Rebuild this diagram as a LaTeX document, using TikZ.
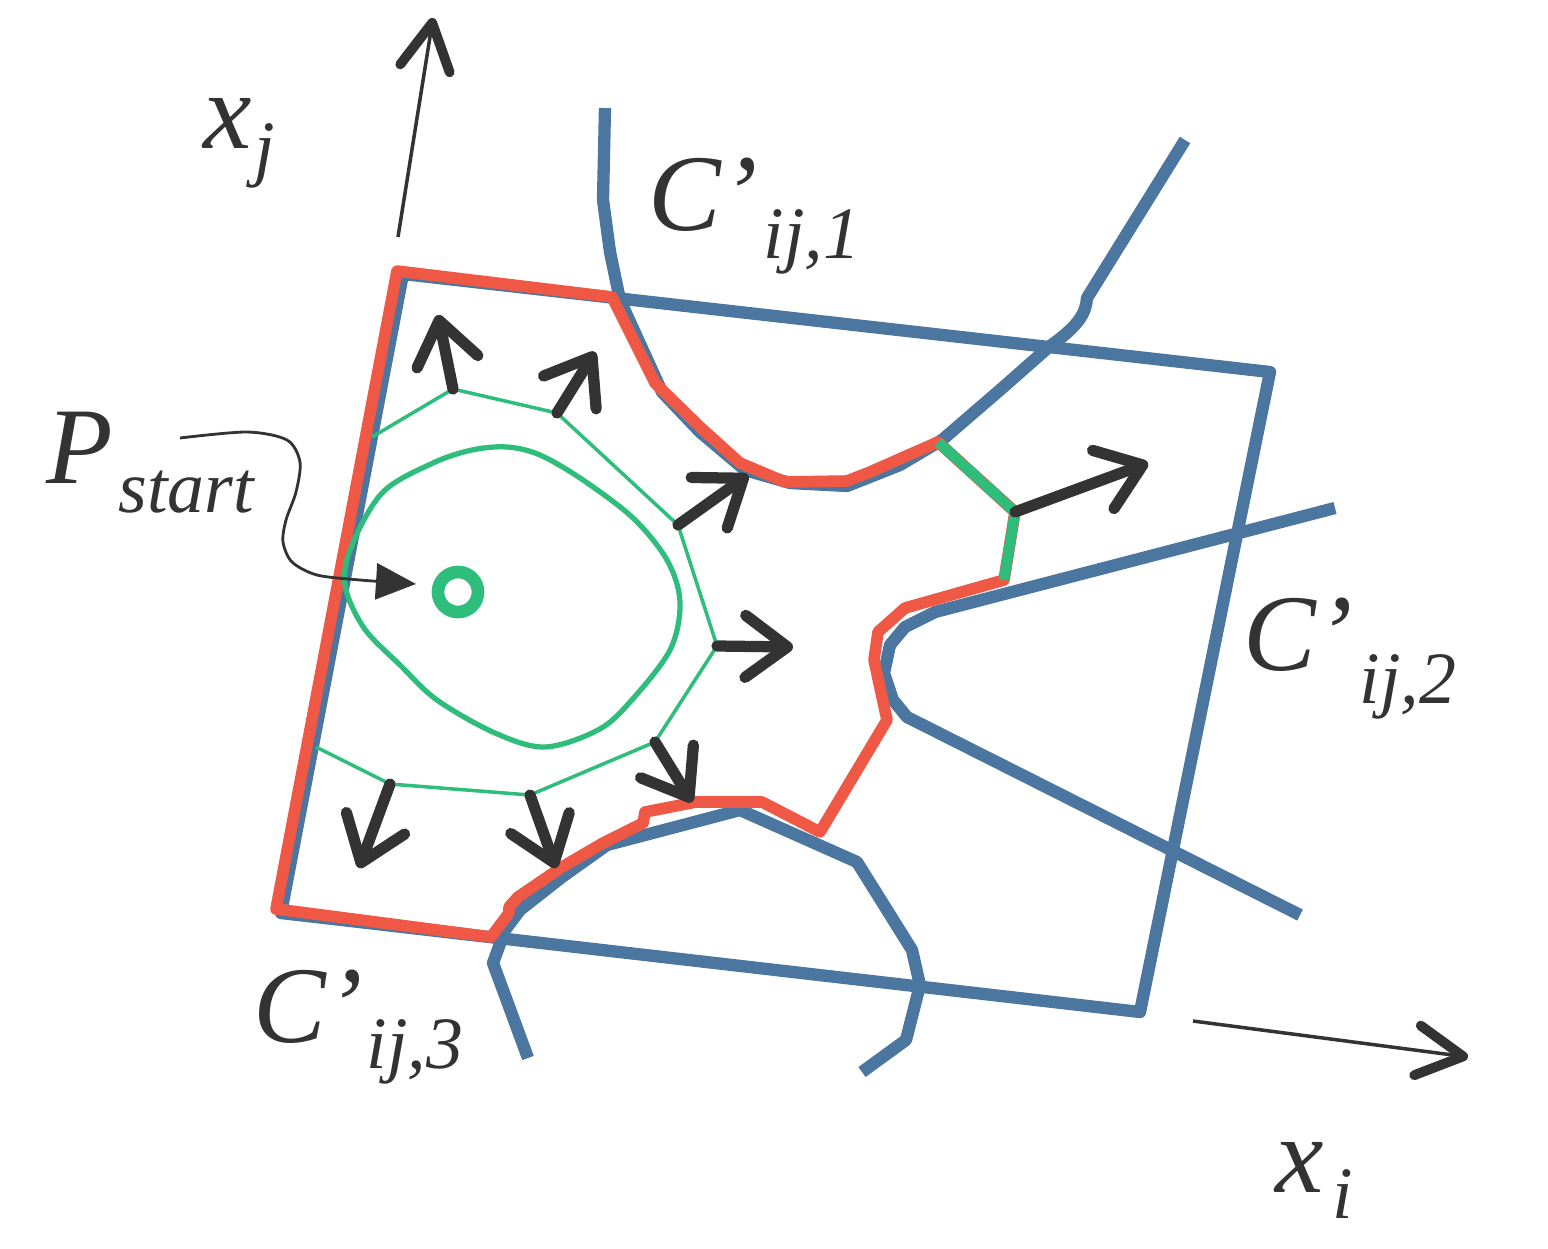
\documentclass[tikz,border=0pt]{standalone}
\usepackage{fontspec}
\setmainfont{Liberation Serif}
\usetikzlibrary{arrows.meta}
\definecolor{cblue}{RGB}{74,118,160}
\definecolor{cred}{RGB}{240,88,70}
\definecolor{cgreen}{RGB}{46,189,122}
\definecolor{cdark}{RGB}{51,51,51}
\begin{document}
\begin{tikzpicture}[x=0.01cm,y=-0.01cm,
 bluel/.style={draw=cblue,line width=3.5pt,line join=round},
 redl/.style={draw=cred,line width=3.3pt,line join=round},
 greenthick/.style={draw=cgreen,line width=3.0pt,line join=round},
 greenthin/.style={draw=cgreen,line width=1.0pt,line join=round},
 greencurve/.style={draw=cgreen,line width=1.5pt},
 grad/.style={draw=cdark,line width=3.2pt,line cap=round,-{Straight Barb[length=0.42cm,width=0.62cm,round]}},
 axisarrow/.style={draw=cdark,line width=1.0pt,-{Straight Barb[length=0.46cm,width=0.5cm,line width=2.8pt,round]}},
 leader/.style={draw=cdark,line width=0.8pt,-{Triangle[length=0.40cm,width=0.36cm]}},
 mainlbl/.style={anchor=base west,inner sep=0pt,text=cdark,font=\fontsize{31}{31}\selectfont\itshape},
 sublbl/.style={anchor=base west,inner sep=0pt,text=cdark,font=\fontsize{21}{21}\selectfont\itshape}]
\useasboundingbox (0,0) rectangle (1548,1248);

% ---- coordinates ----
\coordinate (R1) at (403,274);
\coordinate (R2) at (1270,372);
\coordinate (R3) at (1140,1012);
\coordinate (R4) at (281,913);

\coordinate (gA) at (372,437);
\coordinate (g1) at (453,389);
\coordinate (g2) at (557,413);
\coordinate (g3) at (678,525);
\coordinate (g4) at (717,646);
\coordinate (g5) at (655,742);
\coordinate (g6) at (530,795);
\coordinate (g7) at (390,784);
\coordinate (gB) at (316,747);

\coordinate (t1) at (438,315);
\coordinate (t2) at (595,352);
\coordinate (t3) at (748,475);
\coordinate (t4) at (793,647);
\coordinate (t5) at (1148,463);
\coordinate (t6) at (692,802);
\coordinate (t7) at (556,868);
\coordinate (t8) at (359,868);

\coordinate (gv1) at (938,442);
\coordinate (gv2) at (1015,512);
\coordinate (gv3) at (1004,580);

% ---- blue constraint curves ----
\draw[bluel] (R1) -- (R2) -- (R3) -- (R4) -- cycle;
\draw[bluel] (605,108) -- (603,200) -- (610,252) -- (620,300) -- (662,392) -- (700,432)
  -- (745,470) -- (790,483) -- (847,486) -- (900,465) -- (942,440) -- (1000,390)
  -- (1050,346) .. controls (1080,325) and (1086,312) .. (1087,298) -- (1185,140);
\draw[bluel] (1335,508) -- (935,612) -- (905,627) -- (890,645) -- (884,673) -- (893,700)
  -- (907,717) -- (1300,915);
\draw[bluel] (528,1058) -- (493,963) -- (505,930) -- (520,910) -- (562,877) -- (607,845)
  -- (740,810) -- (857,862) -- (912,950) -- (920,985) -- (906,1040) -- (862,1072);

% ---- red boundary ----
\draw[redl] (397,271) -- (612,297) -- (655,383) -- (700,427) -- (740,463) -- (785,482)
  -- (847,481) -- (870,472) -- (gv1) -- (gv2) -- (gv3) -- (905,608) -- (878,632)
  -- (874,660) -- (887,720) -- (820,832) -- (762,802) -- (696,802) -- (645,812)
  -- (643,823) -- (603,843) -- (562,867) -- (518,897) -- (509,907) -- (509,913)
  -- (491,937) -- (276,909) -- cycle;

% ---- green ----
\draw[greenthick] (gv1) -- (gv2) -- (gv3);
\draw[greenthin] (gA) -- (g1) -- (g2) -- (g3) -- (g4) -- (g5) -- (g6) -- (g7) -- (gB);
\draw[greencurve] plot[smooth cycle,tension=0.55] coordinates {(345,585) (352,545) (383,492)
  (433,463) (472,450) (507,447) (540,455) (583,480) (633,518) (667,560) (680,602)
  (670,650) (630,702) (598,730) (545,747) (495,733) (437,700) (400,665) (364,628)};
\node[circle,draw=cgreen,line width=3.6pt,minimum size=0.40cm,inner sep=0pt] (pstart) at (458,592) {};

% ---- gradient arrows ----
\draw[grad] (g1) -- (t1);
\draw[grad] (g2) -- (t2);
\draw[grad] (g3) -- (t3);
\draw[grad] (g4) -- (t4);
\draw[grad] (gv2) -- (t5);
\draw[grad] (g5) -- (t6);
\draw[grad] (g6) -- (t7);
\draw[grad] (g7) -- (t8);

% ---- axes ----
\coordinate (yA) at (398,237);
\coordinate (yB) at (433,18);
\coordinate (xA) at (1193,1021);
\coordinate (xB) at (1468,1057);
\draw[axisarrow] (yA) -- (yB);
\draw[axisarrow] (xA) -- (xB);

% ---- labels ----
\node[mainlbl] (xjm) at (203,148) {x};
\node[sublbl] (xjs) at (254,172) {j};
\node[mainlbl] (xim) at (1275,1192) {x};
\node[sublbl] (xis) at (1332,1218) {i};
\node[mainlbl] (c1m) at (648,230) {C’};
\node[sublbl] (c1s) at (763,258) {ij,1};
\node[mainlbl] (c2m) at (1243,670) {C’};
\node[sublbl] (c2s) at (1359,703) {ij,2};
\node[mainlbl] (c3m) at (253,1042) {C’};
\node[sublbl] (c3s) at (366,1068) {ij,3};
\node[mainlbl] (pm) at (46,483) {P};
\node[sublbl] (ps) at (118,512) {start};

% ---- leader ----
\coordinate (ldA) at (180,438);
\draw[leader] plot[smooth,tension=0.5] coordinates {(ldA) (247,432) (287,440) (300,462)
  (296,492) (286,520) (283,542) (292,562) (317,575) (360,580) (416,584)};
\end{tikzpicture}
\end{document}
